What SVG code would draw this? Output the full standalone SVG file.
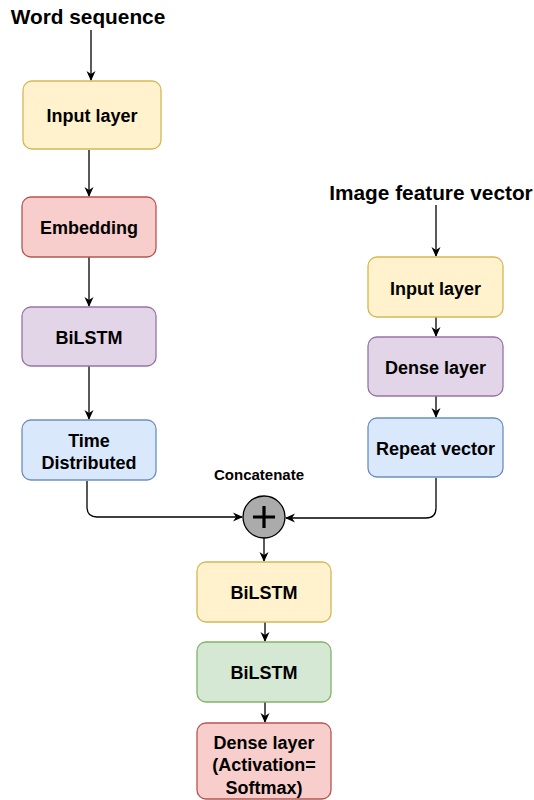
<svg xmlns="http://www.w3.org/2000/svg" width="534" height="800" viewBox="0 0 534 800">
<style>
text{font-family:"Liberation Sans",Arial,sans-serif;font-weight:bold;fill:#000;text-anchor:middle}
.lbl{font-size:18px}
.title{font-size:20.8px}
.small{font-size:15px}
.y{fill:#fff2cc;stroke:#d6b656;stroke-width:1.3}
.r{fill:#f8cecc;stroke:#b85450;stroke-width:1.3}
.p{fill:#e1d5e7;stroke:#9673a6;stroke-width:1.3}
.b{fill:#dae8fc;stroke:#6c8ebf;stroke-width:1.3}
.g{fill:#d5e8d4;stroke:#82b366;stroke-width:1.3}
.c{fill:none;stroke:#000;stroke-width:1.3;marker-end:url(#arr)}
</style>
<defs>
<marker id="arr" viewBox="0 0 10 10" refX="9" refY="5" markerWidth="10" markerHeight="10" markerUnits="userSpaceOnUse" orient="auto">
<path d="M0,0.5 L10,5 L0,9.5 L3,5 z" fill="#000"/>
</marker>
</defs>
<rect width="534" height="800" fill="#fff"/>
<g id="title-word"><text class="title" x="88" y="24">Word sequence</text></g>
<g id="title-image"><text class="title" x="431" y="200">Image feature vector</text></g>
<g id="connectors">
<path class="c" d="M91,30 L91,80"/>
<path class="c" d="M89,150 L89,196"/>
<path class="c" d="M89,257 L89,306"/>
<path class="c" d="M89,366 L89,419"/>
<path class="c" d="M87,481 L87,507 Q87,517 97,517 L242,517"/>
<path class="c" d="M436,205 L436,256"/>
<path class="c" d="M436,317 L436,336"/>
<path class="c" d="M436,396 L436,417"/>
<path class="c" d="M436,478 L436,508 Q436,518 426,518 L286,518"/>
<path class="c" d="M264,538 L264,561"/>
<path class="c" d="M265,622 L265,641"/>
<path class="c" d="M265,702 L265,722"/>
</g>
<g id="input-left"><rect class="y" x="23" y="81" width="138" height="68" rx="9"/><text class="lbl" x="92" y="122">Input layer</text></g>
<g id="embedding"><rect class="r" x="22" y="197" width="134" height="60" rx="9"/><text class="lbl" x="89" y="234">Embedding</text></g>
<g id="bilstm-left"><rect class="p" x="22" y="307" width="134" height="59" rx="9"/><text class="lbl" x="89" y="344">BiLSTM</text></g>
<g id="time-distributed"><rect class="b" x="22" y="420" width="134" height="60" rx="9"/><text class="lbl" x="89" y="447">Time</text><text class="lbl" x="89" y="469">Distributed</text></g>
<g id="input-right"><rect class="y" x="368" y="257" width="135" height="60" rx="9"/><text class="lbl" x="435.5" y="295">Input layer</text></g>
<g id="dense-right"><rect class="p" x="368" y="337" width="135" height="59" rx="9"/><text class="lbl" x="435.5" y="374">Dense layer</text></g>
<g id="repeat-vector"><rect class="b" x="368" y="418" width="135" height="59" rx="9"/><text class="lbl" x="435.5" y="455">Repeat vector</text></g>
<g id="concatenate"><text class="small" x="259" y="480">Concatenate</text><circle cx="264" cy="517" r="21" fill="#ababab" stroke="#000" stroke-width="1.3"/><path d="M253,517 L275,517 M264,506 L264,528" stroke="#000" stroke-width="3.2"/></g>
<g id="bilstm-1"><rect class="y" x="197" y="562" width="134" height="60" rx="9"/><text class="lbl" x="264" y="599">BiLSTM</text></g>
<g id="bilstm-2"><rect class="g" x="197" y="642" width="134" height="60" rx="9"/><text class="lbl" x="264" y="679">BiLSTM</text></g>
<g id="dense-out"><rect class="r" x="197" y="723" width="134" height="76" rx="9"/><text class="lbl" x="264" y="749">Dense layer</text><text class="lbl" x="264" y="771">(Activation=</text><text class="lbl" x="264" y="794">Softmax)</text></g>
</svg>
